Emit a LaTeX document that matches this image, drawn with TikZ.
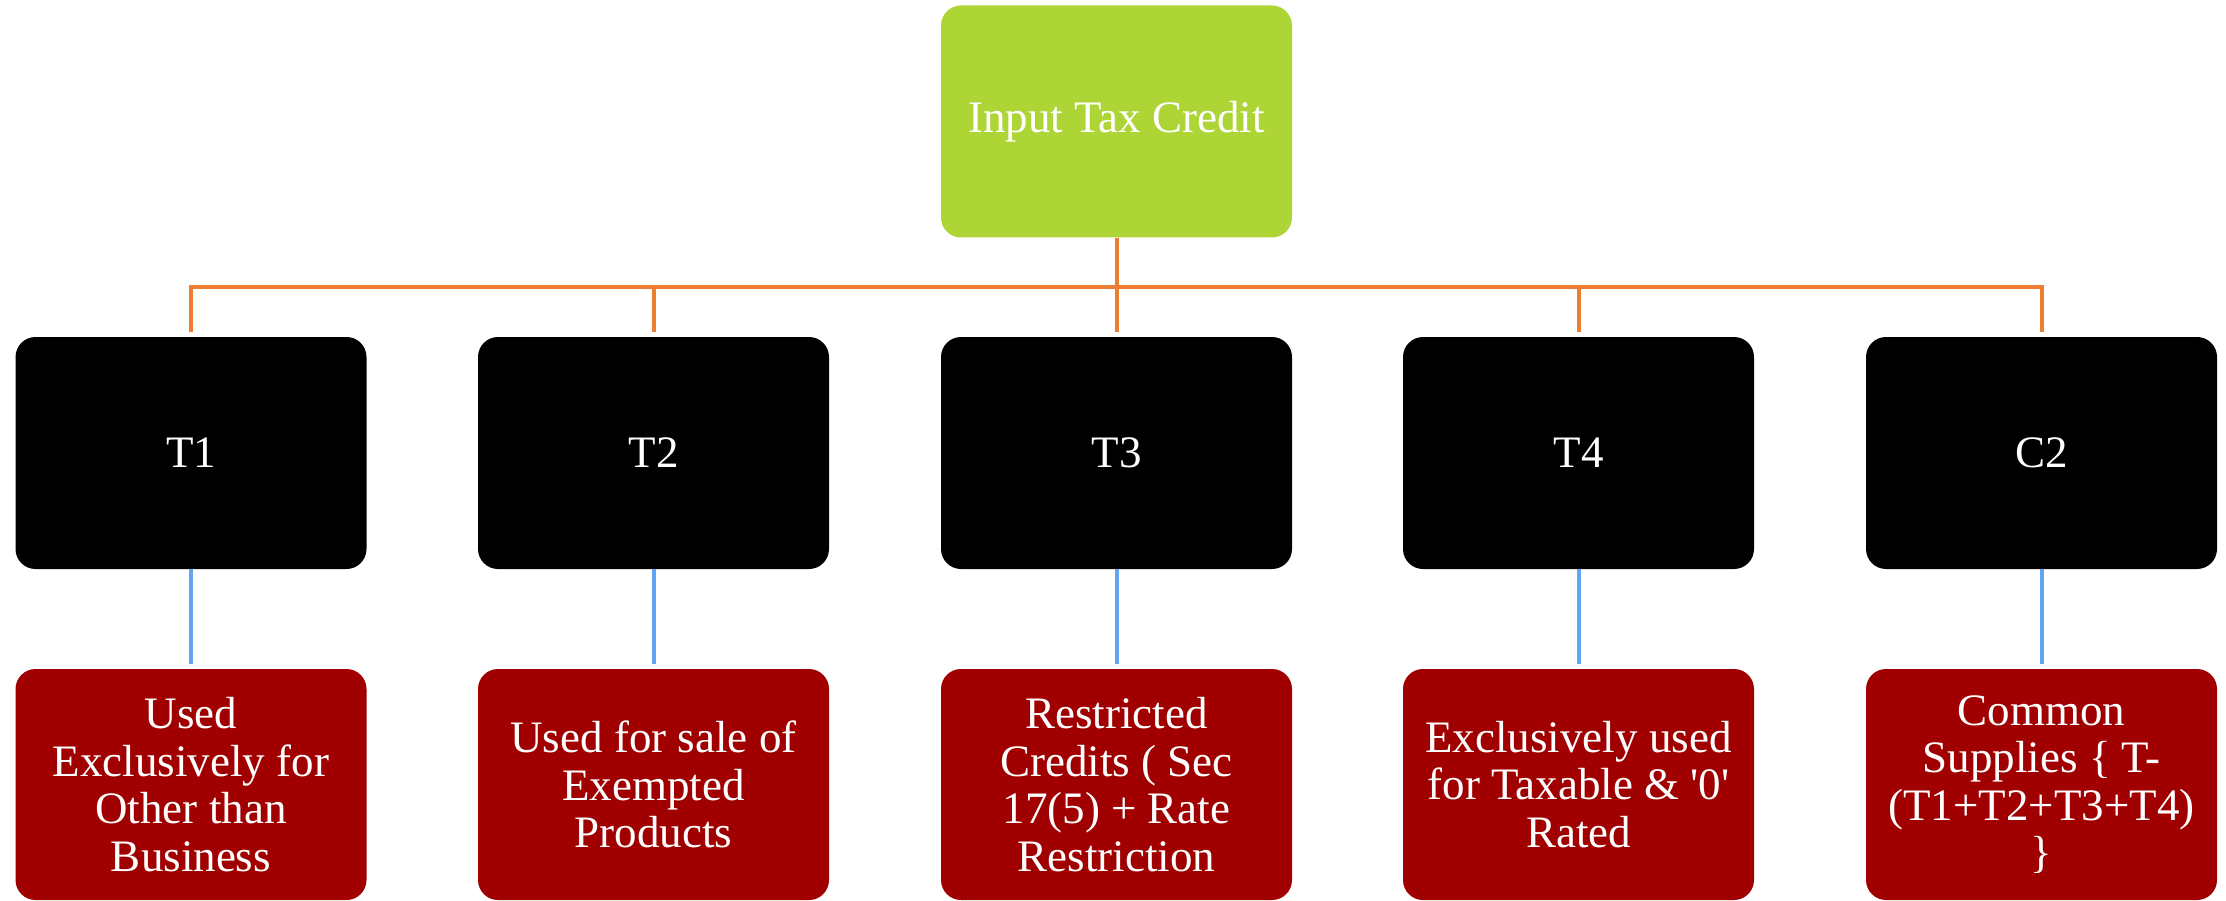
\documentclass[tikz,border=0pt]{standalone}
\usepackage{fontspec}
\setmainfont{Liberation Serif}
\definecolor{itcgreen}{HTML}{AED536}
\definecolor{itcred}{HTML}{A00000}
\definecolor{itcorange}{HTML}{ED7D31}
\definecolor{itcblue}{HTML}{5FA5F2}
\begin{document}
\begin{tikzpicture}[x=1pt,y=-1pt,
  basebox/.style={rectangle, rounded corners=20pt, minimum width=351pt, minimum height=232pt,
    inner sep=0pt, text=white, align=center, font=\fontsize{45}{47.5}\selectfont},
  topbox/.style={basebox, fill=itcgreen},
  midbox/.style={basebox, fill=black},
  leafbox/.style={basebox, fill=itcred, minimum height=231pt},
  orangeline/.style={draw=itcorange, line width=4pt},
  blueline/.style={draw=itcblue, line width=4pt, shorten >=5pt}]
\useasboundingbox (0,0) rectangle (2226,901);
\node[topbox] (top) at (1116.5,121.5) {Input Tax Credit};
\node[midbox] (t1) at (191,453) {T1};
\node[midbox] (t2) at (653.5,453) {T2};
\node[midbox] (t3) at (1116.5,453) {T3};
\node[midbox] (t4) at (1578.5,453) {T4};
\node[midbox] (c2) at (2041.5,453) {C2};
\node[leafbox] (l1) at (191,784.5) {Used\\Exclusively for\\Other than\\Business};
\node[leafbox] (l2) at (653.5,784.5) {Used for sale of\\Exempted\\Products};
\node[leafbox] (l3) at (1116.5,784.5) {Restricted\\Credits ( Sec\\17(5) + Rate\\Restriction};
\node[leafbox] (l4) at (1578.5,784.5) {Exclusively used\\for Taxable \& \textquotesingle0\textquotesingle\\Rated};
\node[leafbox] (l5) at (2041.5,784.5) {Common\\Supplies \{ T-\\(T1+T2+T3+T4)\\\}};
\coordinate (bus) at (0,287);
\foreach \n in {t1,t2,t3,t4,c2}{
  \draw[orangeline, shorten >=5pt] (top.south) -- (top.south |- bus) -| (\n.north);
}
\draw[blueline] (t1.south) -- (l1.north);
\draw[blueline] (t2.south) -- (l2.north);
\draw[blueline] (t3.south) -- (l3.north);
\draw[blueline] (t4.south) -- (l4.north);
\draw[blueline] (c2.south) -- (l5.north);
\end{tikzpicture}
\end{document}
